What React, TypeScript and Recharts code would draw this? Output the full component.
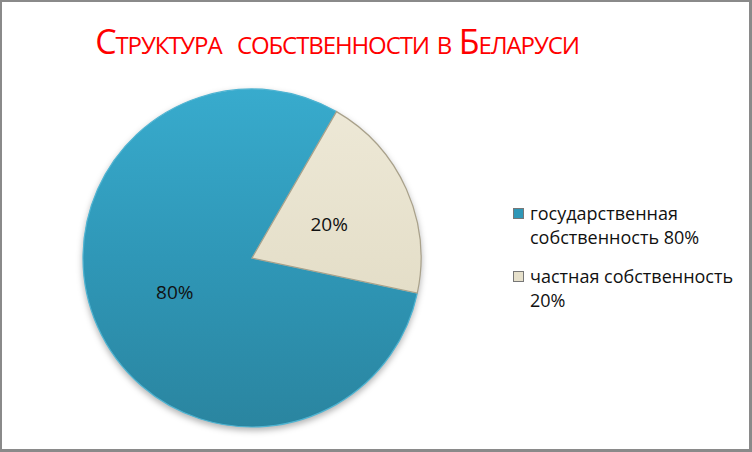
import { Legend, Pie, PieChart, Cell } from "recharts";

const categories = ["государственная собственность", "частная собственность"];
const shares = [80, 20];
const fills = ["url(#gosGrad)", "url(#privGrad)"];
const swatches = ["#2f97b7", "#e6e0cb"];

const rows = categories.map((name, i) => ({ name, value: shares[i] }));
const RADIAN = Math.PI / 180;
const font = "'Open Sans', 'Liberation Sans', sans-serif";

function SliceLabel(p: any) {
  const r = p.outerRadius * 0.5;
  const x = p.cx + r * Math.cos(-p.midAngle * RADIAN);
  const y = p.cy + r * Math.sin(-p.midAngle * RADIAN);
  return <text x={x} y={y} textAnchor="middle" dominantBaseline="central" fontFamily={font} fontSize={19} fill="#111">{`${p.value}%`}</text>;
}

function LegendBox({ payload }: any) {
  return <div style={{ fontFamily: font, fontSize: 18, lineHeight: "24px", color: "#111", width: 232, textAlign: "left" }}>
    {(payload || []).map((e: any, i: number) => <div key={i} style={{ position: "relative", paddingLeft: 17, marginBottom: 15 }}>
      <span style={{ position: "absolute", left: 0, top: 7, width: 9, height: 9, background: swatches[i], border: "1px solid #777" }} />
      {`${e.value} ${shares[i]}%`}
    </div>)}
  </div>;
}

export default function App() {
  return <div style={{ position: "fixed", left: 0, top: 0, width: 752, height: 452, background: "#fff", overflow: "hidden" }}>
    <style>{`.recharts-pie{filter:drop-shadow(0 3px 3px rgba(0,0,0,0.3))}`}</style>
    <div style={{ position: "absolute", left: 0, top: 16, width: 674, textAlign: "center", fontFamily: font, fontSize: 34, letterSpacing: -1.1, color: "#ff0000", fontVariant: "small-caps", whiteSpace: "pre", lineHeight: "50px" }}>Структура  собственности в Беларуси</div>
    <PieChart width={752} height={452} margin={{ top: 0, right: 0, bottom: 0, left: 0 }} style={{ position: "absolute", left: 0, top: 0 }}>
      <defs>
        <linearGradient id="gosGrad" x1="0" y1="0" x2="0" y2="1">
          <stop offset="0" stopColor="#38abcd" />
          <stop offset="0.5" stopColor="#2f97b7" />
          <stop offset="1" stopColor="#2a85a0" />
        </linearGradient>
        <linearGradient id="privGrad" x1="0" y1="0" x2="0" y2="1">
          <stop offset="0" stopColor="#ede8d6" />
          <stop offset="1" stopColor="#e4dec8" />
        </linearGradient>
      </defs>
      <Pie data={rows} dataKey="value" nameKey="name" cx={252} cy={258} outerRadius={169} startAngle={60} endAngle={420} label={SliceLabel} labelLine={false} isAnimationActive={false}>
        {rows.map((_, i) => <Cell key={i} fill={fills[i]} stroke={i === 0 ? "#4fb4d2" : "#a9a18a"} strokeWidth={1.2} />)}
      </Pie>
      <Legend layout="vertical" verticalAlign="middle" align="right" content={LegendBox} wrapperStyle={{ left: 513, top: 201, right: "auto", width: 240 }} />
    </PieChart>
    <div style={{ position: "absolute", inset: 0, borderStyle: "solid", borderColor: "#8a8a8a", borderWidth: "2px 3px 3px 2px", pointerEvents: "none" }} />
  </div>;
}
